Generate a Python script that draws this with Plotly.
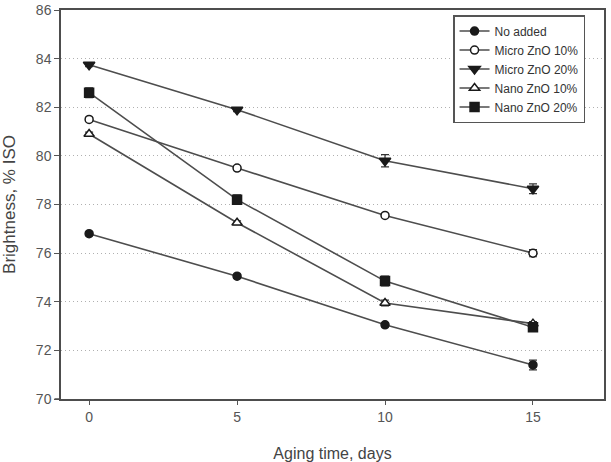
import plotly.graph_objects as go

days = [0, 5, 10, 15]
series_names = ["No added", "Micro ZnO 10%", "Micro ZnO 20%", "Nano ZnO 10%", "Nano ZnO 20%"]
no_added = [76.8, 75.05, 73.05, 71.4]
micro10 = [81.5, 79.5, 77.55, 76.0]
micro20 = [83.75, 81.9, 79.8, 78.65]
nano10 = [80.9, 77.25, 73.95, 73.1]
nano20 = [82.6, 78.2, 74.85, 72.95]
err_no_added = [0.08, 0.08, 0.08, 0.2]
err_micro10 = [0.08, 0.08, 0.08, 0.15]
err_micro20 = [0.08, 0.08, 0.25, 0.2]
err_nano10 = [0.08, 0.08, 0.12, 0.08]
err_nano20 = [0.2, 0.2, 0.2, 0.08]

values = [no_added, micro10, micro20, nano10, nano20]
errors = [err_no_added, err_micro10, err_micro20, err_nano10, err_nano20]
symbols = ["circle", "circle", "triangle-down", "triangle-up", "square"]
fills = ["#1a1a1a", "white", "#1a1a1a", "white", "#1a1a1a"]
sizes = [8, 8, 10, 9, 9]

line_col = "#4d4d4d"
fig = go.Figure()
for name, v, e, s, f, sz in zip(series_names, values, errors, symbols, fills, sizes):
    fig.add_trace(go.Scatter(
        x=days, y=v, name=name, mode="lines+markers",
        line=dict(color=line_col, width=1.6),
        marker=dict(symbol=s, size=sz, color=f,
                    line=dict(color="#1a1a1a", width=1.5)),
        error_y=dict(type="data", array=e, visible=True, color="#333333",
                     thickness=1.2, width=4),
    ))

font_fam = "Liberation Sans, Arial, sans-serif"
fig.update_layout(
    width=611, height=462,
    margin=dict(l=61, r=7, t=10, b=63),
    paper_bgcolor="white", plot_bgcolor="white",
    font=dict(family=font_fam, color="#555555", size=14),
    showlegend=True,
    legend=dict(
        x=0.722, y=0.987, xanchor="left", yanchor="top",
        bgcolor="white", bordercolor="#555555", borderwidth=1.5,
        font=dict(size=12, color="#333333"), itemwidth=30,
        tracegroupgap=0,
    ),
    xaxis=dict(
        range=[-0.95, 17.4], tickvals=days, ticktext=["0", "5", "10", "15"],
        showgrid=False, zeroline=False, showline=True, linecolor="#4d4d4d",
        linewidth=1.5, mirror=True, ticks="outside", ticklen=4,
        tickcolor="#555555", automargin=False,
        title=dict(text="Aging time, days", font=dict(size=16, color="#444444"),
                   standoff=28),
    ),
    yaxis=dict(
        range=[70, 86], tickvals=[70, 72, 74, 76, 78, 80, 82, 84, 86],
        showgrid=True, gridcolor="#b0b0b0", griddash="1px,3px", gridwidth=1,
        zeroline=False, showline=True, linecolor="#4d4d4d", linewidth=1.5,
        mirror=True, ticks="outside", ticklen=5, tickcolor="#555555",
        automargin=False,
        title=dict(text="Brightness, % ISO", font=dict(size=17, color="#444444"),
                   standoff=18),
    ),
    shapes=[dict(type="line", xref="paper", yref="paper", x0=-0.012, x1=0,
                 y0=0, y1=0, line=dict(color="#4d4d4d", width=1.5))],
)
fig.write_html("out.html")
